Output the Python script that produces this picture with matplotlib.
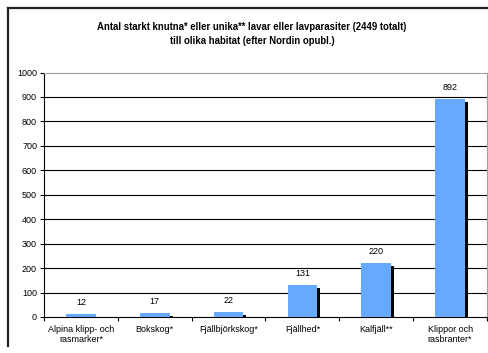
import numpy as np
import matplotlib.pyplot as plt
from matplotlib.transforms import ScaledTranslation
from matplotlib.lines import Line2D

plt.rcParams['font.family'] = ['Liberation Sans', 'DejaVu Sans']

# data
habitats = ['Alpina klipp- och\nrasmarker*', 'Bokskog*', 'Fjällbjörkskog*',
            'Fjällhed*', 'Kalfjäll**', 'Klippor och\nrasbranter*']
counts = [12, 17, 22, 131, 220, 892]
yticks = list(range(0, 1001, 100))
title = ('Antal starkt knutna* eller unika** lavar eller lavparasiter (2449 totalt)\n'
         'till olika habitat (efter Nordin opubl.)')

W, H = 489, 353
fig = plt.figure(figsize=(W / 100, H / 100), dpi=100)
ax = fig.add_axes([44 / W, (H - 317) / H, (487 - 44) / W, (317 - 72.5) / H])

x = np.arange(len(habitats))
bw = 0.4

# drop shadow, shifted a few pixels right and down
shadow = ax.transData + ScaledTranslation(0.03, -0.03, fig.dpi_scale_trans)
ax.bar(x, counts, bw, color='black', transform=shadow, zorder=2)
ax.bar(x, counts, bw, color='#66aaff', zorder=3)

for xi, v in zip(x, counts):
    ax.annotate(str(v), (xi, v), xytext=(0, 5), textcoords='offset points',
                ha='center', va='bottom', fontsize=6.5)

ax.set_xlim(-0.5, len(habitats) - 0.5)
ax.set_ylim(0, 1000)
ax.set_yticks(yticks)
ax.set_yticklabels([str(t) for t in yticks], fontsize=6.5)
ax.set_xticks(x)
ax.set_xticklabels(habitats, fontsize=6.5, linespacing=1.15)
ax.tick_params(axis='x', length=0, pad=6)
ax.set_xticks(np.arange(len(habitats) + 1) - 0.5, minor=True)
ax.tick_params(axis='x', which='minor', length=3, width=0.8)
ax.tick_params(axis='y', length=3, width=0.8, pad=2)

for t in yticks[1:-1]:
    ax.axhline(t, color='black', lw=0.8, zorder=1)

for s in ['top', 'right']:
    ax.spines[s].set_color('#a0a0a0')
    ax.spines[s].set_linewidth(0.8)
for s in ['left', 'bottom']:
    ax.spines[s].set_linewidth(0.8)

fig.text(252 / W, 1 - 34 / H, title, ha='center', va='center', fontsize=6.9,
         linespacing=1.5, fontweight='bold')

# outer chart frame
fig.add_artist(Line2D([8 / W, 8 / W], [1 - 8 / H, 1 - 346 / H], color='#222222', lw=1.6))
fig.add_artist(Line2D([8 / W, 1], [1 - 8 / H, 1 - 8 / H], color='#222222', lw=1.6))

fig.savefig('out.png', dpi=100)
